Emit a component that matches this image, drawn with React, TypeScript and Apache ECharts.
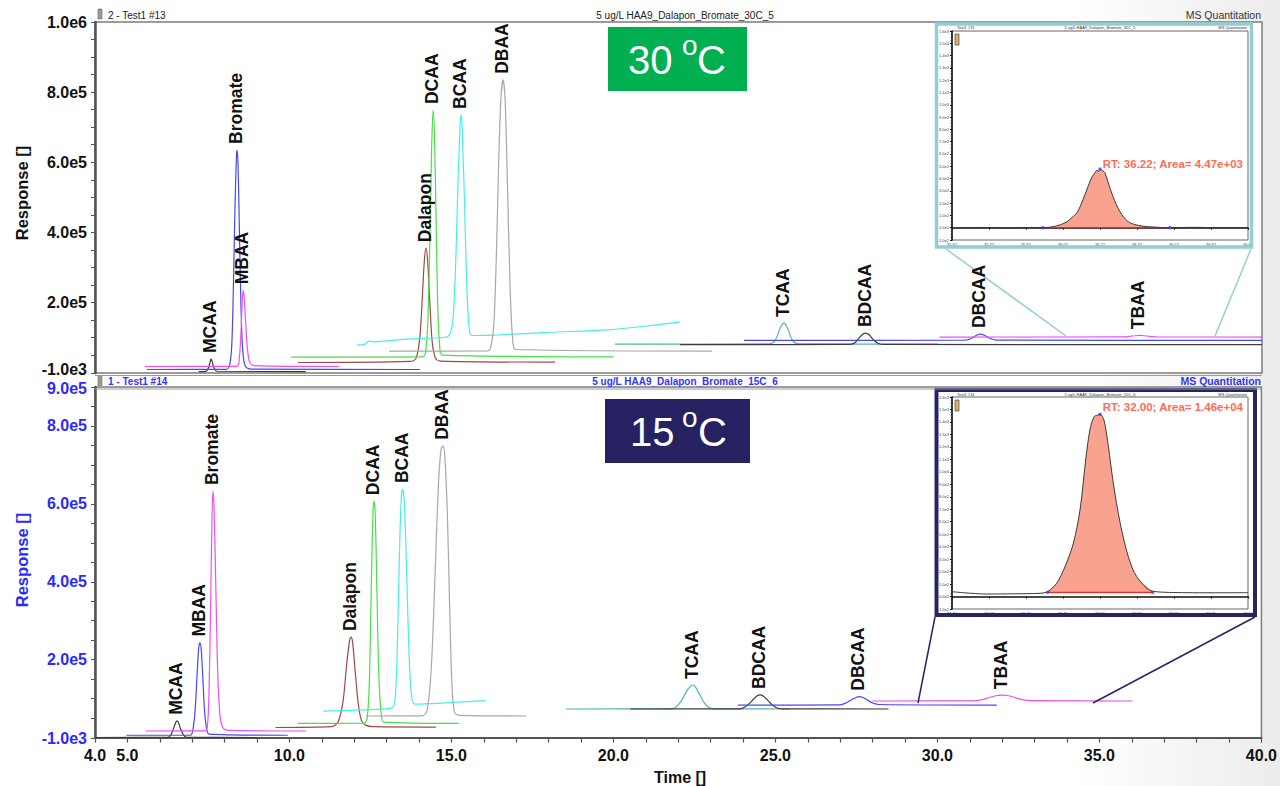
import { useEffect, useRef } from "react";
import * as echarts from "echarts";

type Pt = [number, number];

const FONT = "'Liberation Sans', Arial, Helvetica, sans-serif";

// ---- 30 °C run (upper panel): retention time (min), response ----
const mcaa30: Pt[] = [[7.2, 3000], [7.42, 3500], [7.5, 14000], [7.55, 30000], [7.58, 39000], [7.62, 30000], [7.67, 14000], [7.76, 4000], [10.5, 3000]];
const bromate30: Pt[] = [[5.6, 9000], [8.05, 9500], [8.15, 20000], [8.22, 80000], [8.27, 250000], [8.32, 480000], [8.36, 610000], [8.38, 635000], [8.41, 600000], [8.45, 430000], [8.5, 200000], [8.56, 60000], [8.64, 18000], [8.8, 10000], [14.03, 9000]];
const mbaa30: Pt[] = [[5.54, 17500], [8.38, 18000], [8.45, 40000], [8.5, 110000], [8.54, 200000], [8.57, 235000], [8.6, 215000], [8.65, 140000], [8.7, 70000], [8.77, 30000], [8.9, 20000], [11.53, 17500]];
const dalapon30: Pt[] = [[10.26, 29000], [13.7, 32000], [13.9, 40000], [14.02, 100000], [14.1, 220000], [14.16, 320000], [14.21, 355000], [14.26, 320000], [14.33, 200000], [14.4, 90000], [14.5, 42000], [14.65, 33000], [18.19, 30000]];
const dcaa30: Pt[] = [[10.05, 44000], [14.1, 45000], [14.2, 60000], [14.27, 150000], [14.33, 380000], [14.38, 620000], [14.43, 749000], [14.47, 680000], [14.52, 450000], [14.57, 200000], [14.63, 80000], [14.72, 50000], [19.98, 45000]];
const bcaa30: Pt[] = [[12.08, 79000], [12.3, 80000], [12.45, 90000], [12.6, 88000], [13.5, 95000], [14.8, 101000], [14.95, 110000], [15.05, 160000], [15.13, 320000], [15.2, 550000], [15.26, 700000], [15.29, 735000], [15.33, 690000], [15.4, 480000], [15.47, 250000], [15.54, 130000], [15.62, 106000], [16.5, 108000], [18.0, 115000], [19.8, 122000], [21.0, 133000], [22.05, 145000]];
const dbaa30: Pt[] = [[13.07, 61500], [16.1, 62000], [16.2, 70000], [16.3, 130000], [16.38, 330000], [16.45, 590000], [16.52, 780000], [16.59, 835000], [16.65, 780000], [16.72, 550000], [16.8, 260000], [16.88, 100000], [16.98, 66000], [23.03, 61500]];
const tcaa30: Pt[] = [[20.04, 81500], [24.8, 82000], [24.95, 88000], [25.05, 105000], [25.15, 130000], [25.25, 141500], [25.35, 130000], [25.45, 105000], [25.55, 88000], [25.7, 82000], [30.0, 81500]];
const bdcaa30: Pt[] = [[22.05, 80000], [27.3, 80500], [27.45, 86000], [27.6, 102000], [27.7, 111000], [27.78, 113000], [27.88, 108000], [28.0, 95000], [28.15, 84000], [28.35, 80500], [40, 80000]];
const dbcaa30: Pt[] = [[24.02, 92000], [30.8, 92500], [31.0, 96000], [31.15, 104000], [31.3, 110000], [31.45, 106000], [31.6, 98000], [31.8, 93000], [40, 92000]];
const tbaa30: Pt[] = [[30.05, 101500], [35.7, 102000], [36.0, 104500], [36.22, 106500], [36.45, 104500], [36.75, 102000], [40, 101500]];

// ---- 15 °C run (lower panel) ----
const mcaa15: Pt[] = [[4.03, 300], [6.25, 500], [6.35, 8000], [6.43, 25000], [6.5, 40000], [6.53, 43000], [6.57, 40000], [6.63, 25000], [6.72, 8000], [6.82, 1000], [9.03, 300]];
const mbaa15: Pt[] = [[4.97, 6000], [6.95, 6500], [7.02, 20000], [7.09, 70000], [7.15, 160000], [7.2, 230000], [7.24, 244000], [7.28, 225000], [7.33, 150000], [7.38, 70000], [7.44, 25000], [7.52, 9000], [9.95, 6000]];
const bromate15: Pt[] = [[5.56, 17000], [7.4, 17500], [7.47, 30000], [7.52, 120000], [7.57, 350000], [7.61, 560000], [7.64, 633000], [7.68, 580000], [7.73, 380000], [7.79, 160000], [7.86, 55000], [7.96, 24000], [8.2, 18500], [10.51, 17000]];
const dalapon15: Pt[] = [[9.57, 26000], [11.3, 28000], [11.5, 40000], [11.65, 90000], [11.77, 190000], [11.86, 250000], [11.9, 258000], [11.95, 245000], [12.03, 170000], [12.12, 90000], [12.22, 45000], [12.35, 32000], [12.6, 28000], [14.52, 27000]];
const dcaa15: Pt[] = [[10.26, 36500], [12.3, 37000], [12.4, 50000], [12.47, 150000], [12.53, 400000], [12.58, 580000], [12.61, 607000], [12.65, 570000], [12.7, 380000], [12.76, 160000], [12.83, 65000], [12.92, 40000], [15.23, 36500]];
const bcaa15: Pt[] = [[11.05, 68000], [12.5, 72000], [13.15, 75500], [13.25, 90000], [13.32, 200000], [13.39, 450000], [13.45, 610000], [13.5, 638000], [13.55, 600000], [13.62, 420000], [13.7, 200000], [13.78, 100000], [13.88, 86000], [14.8, 89000], [16.04, 95000]];
const dbaa15: Pt[] = [[12.36, 55500], [14.1, 56000], [14.25, 70000], [14.38, 180000], [14.5, 430000], [14.6, 650000], [14.68, 740000], [14.74, 749000], [14.8, 720000], [14.88, 560000], [14.95, 320000], [15.02, 130000], [15.1, 65000], [15.25, 57000], [17.31, 55500]];
const tcaa15: Pt[] = [[18.54, 73500], [21.8, 74000], [21.95, 80000], [22.1, 95000], [22.25, 118000], [22.38, 132000], [22.45, 135000], [22.53, 130000], [22.65, 112000], [22.8, 90000], [22.95, 77000], [23.1, 74000], [25.45, 73500]];
const bdcaa15: Pt[] = [[20.52, 73500], [23.9, 74000], [24.05, 78000], [24.2, 88000], [24.35, 101000], [24.45, 108000], [24.53, 109500], [24.62, 107000], [24.75, 97000], [24.9, 84000], [25.05, 76000], [25.2, 74000], [28.49, 73500]];
const dbcaa15: Pt[] = [[23.84, 83500], [26.95, 84000], [27.15, 88000], [27.35, 97000], [27.5, 103500], [27.59, 105000], [27.7, 103000], [27.85, 96000], [28.0, 89000], [28.2, 85000], [31.83, 83500]];
const tbaa15: Pt[] = [[27.99, 94000], [31.1, 94500], [31.35, 97000], [31.6, 103000], [31.8, 107500], [32.0, 109000], [32.2, 107500], [32.42, 102000], [32.65, 97000], [32.9, 95000], [36.02, 94000]];

// ---- TBAA peak close-ups (inset integrations) ----
const inset30: Pt[] = [[35.62, 0], [35.75, 2], [35.85, -1], [35.95, 1], [35.989, 0], [36.029, 8], [36.06, 25], [36.086, 48], [36.107, 85], [36.127, 122], [36.151, 228], [36.171, 333], [36.188, 414], [36.2, 447], [36.208, 468], [36.214, 456], [36.22, 477], [36.232, 462], [36.24, 447], [36.252, 374], [36.273, 252], [36.301, 130], [36.334, 49], [36.382, 16], [36.45, 4], [36.504, 0], [36.6, 3], [36.7, 0], [36.82, 2]];
const inset30Peak = { start: 35.989, apex: 36.22, end: 36.504, base: 0, area: "4.47e+03" };
const inset15: Pt[] = [[31.4, 39], [31.45, 30], [31.541, 20], [31.65, 22], [31.757, 26], [31.788, 39], [31.824, 106], [31.858, 239], [31.892, 427], [31.919, 694], [31.942, 1095], [31.959, 1336], [31.976, 1442], [31.99, 1455], [32.0, 1461], [32.016, 1416], [32.034, 1202], [32.054, 908], [32.082, 587], [32.115, 319], [32.149, 159], [32.214, 42], [32.351, 31], [32.45, 30], [32.6, 31]];
const inset15Peak = { start: 31.788, apex: 32.0, end: 32.214, base: 34, area: "1.46e+04" };

// ---- axis ticks ----
const xLabelValues = [4, 5, 10, 15, 20, 25, 30, 35, 40];
const xTickValues = Array.from({ length: 37 }, (_, i) => 4 + i);
const yLabels30 = [-1000, 200000, 400000, 600000, 800000, 1000000];
const yLabels15 = [-1000, 200000, 400000, 600000, 800000, 900000];
const yTicks30 = [-1000, ...Array.from({ length: 20 }, (_, i) => (i + 1) * 50000)];
const yTicks15 = [-1000, ...Array.from({ length: 18 }, (_, i) => (i + 1) * 50000)];
const insetX30 = [35.62, 35.77, 35.92, 36.07, 36.22, 36.37, 36.52, 36.67, 36.82];
const insetX15 = [31.4, 31.55, 31.7, 31.85, 32.0, 32.15, 32.3, 32.45, 32.6];

const COL = {
  blue: "#4747f2",
  magenta: "#f04ef0",
  black: "#3c3c3c",
  brown: "#a34646",
  green: "#47e047",
  cyan: "#42efef",
  grey: "#a8a8a8",
  teal: "#54b2b2",
};

const traces30 = [
  { name: "MCAA", data: mcaa30, color: COL.black },
  { name: "Bromate", data: bromate30, color: COL.blue },
  { name: "MBAA", data: mbaa30, color: COL.magenta },
  { name: "Dalapon", data: dalapon30, color: COL.brown },
  { name: "DCAA", data: dcaa30, color: COL.green },
  { name: "BCAA", data: bcaa30, color: COL.cyan },
  { name: "DBAA", data: dbaa30, color: COL.grey },
  { name: "TCAA", data: tcaa30, color: COL.teal },
  { name: "BDCAA", data: bdcaa30, color: COL.black },
  { name: "DBCAA", data: dbcaa30, color: COL.blue },
  { name: "TBAA", data: tbaa30, color: COL.magenta },
];

const traces15 = [
  { name: "MCAA", data: mcaa15, color: COL.black },
  { name: "MBAA", data: mbaa15, color: COL.blue },
  { name: "Bromate", data: bromate15, color: COL.magenta },
  { name: "Dalapon", data: dalapon15, color: COL.brown },
  { name: "DCAA", data: dcaa15, color: COL.green },
  { name: "BCAA", data: bcaa15, color: COL.cyan },
  { name: "DBAA", data: dbaa15, color: COL.grey },
  { name: "TCAA", data: tcaa15, color: COL.teal },
  { name: "BDCAA", data: bdcaa15, color: COL.black },
  { name: "DBCAA", data: dbcaa15, color: COL.blue },
  { name: "TBAA", data: tbaa15, color: COL.magenta },
];

function fmtExp(v: number): string {
  if (v === 0) return "0.0e0";
  const e = Math.floor(Math.log10(Math.abs(v)));
  const m = v / Math.pow(10, e);
  return `${m.toFixed(1)}e${e}`;
}

function apexOf(data: Pt[]): Pt {
  return data.reduce((a, b) => (b[1] > a[1] ? b : a));
}

const Y30_COLOR = "#111";
const Y15_COLOR = "#2a2aff";

export default function App() {
  const ref = useRef<HTMLDivElement>(null);

  useEffect(() => {
    const el = ref.current;
    if (!el) return;
    const chart = echarts.init(el, null, { renderer: "svg" });

    const yLabelStyle = (color: string) => ({
      color,
      fontFamily: FONT,
      fontWeight: "bold",
      fontSize: 16,
    });

    // The two labels where the panels meet (top panel's minimum, lower panel's
    // maximum) are placed separately so they can be nudged apart.
    const mainY = (grid: number, max: number, labels: number[], ticks: number[], color: string) => ({
      type: "value",
      gridIndex: grid,
      min: -1000,
      max,
      splitLine: { show: false },
      axisLine: { show: true, lineStyle: { color: "#555", width: 2.5 } },
      axisTick: { show: true, customValues: ticks, length: 4, lineStyle: { color: "#555", width: 1 } },
      axisLabel: {
        customValues: labels,
        formatter: (v: number) => fmtExp(v),
        margin: 8,
        ...yLabelStyle(color),
      },
    });

    const insetAxes = (grid: number, xmin: number, xmax: number, xvals: number[]) => ({
      x: {
        type: "value",
        gridIndex: grid,
        min: xmin,
        max: xmax,
        splitLine: { show: false },
        axisLine: { show: true, lineStyle: { color: "#111", width: 1.5 } },
        axisTick: { show: true, customValues: xvals, length: 2, lineStyle: { color: "#111" } },
        axisLabel: {
          customValues: xvals,
          formatter: (v: number) => v.toFixed(2),
          fontSize: 4,
          color: "#444",
          margin: 2,
          fontFamily: FONT,
        },
      },
      y: {
        type: "value",
        gridIndex: grid,
        min: -100,
        max: 1600,
        interval: 100,
        splitLine: { show: false },
        axisLine: { show: true, lineStyle: { color: "#111", width: 1.5 } },
        axisTick: { show: true, length: 2, lineStyle: { color: "#111" } },
        minorTick: { show: true, splitNumber: 4, length: 1.2, lineStyle: { color: "#333" } },
        axisLabel: { formatter: (v: number) => fmtExp(v), fontSize: 4, color: "#444", margin: 3, fontFamily: FONT },
      },
    });

    const in30 = insetAxes(2, insetX30[0], insetX30[insetX30.length - 1], insetX30);
    const in15 = insetAxes(3, insetX15[0], insetX15[insetX15.length - 1], insetX15);

    const traceSeries = (list: typeof traces30, axis: number) =>
      list.map((t) => ({
        type: "line",
        name: t.name,
        xAxisIndex: axis,
        yAxisIndex: axis,
        data: t.data,
        showSymbol: false,
        symbol: "none",
        smooth: 0.3,
        silent: true,
        lineStyle: { color: t.color, width: 1.2 },
        z: 3,
      }));

    const insetSeries = (axis: number, trace: Pt[], pk: typeof inset30Peak) => {
      const peakPart = trace.filter((p) => p[0] >= pk.start && p[0] <= pk.end);
      const apex = apexOf(trace);
      return [
        {
          type: "line",
          xAxisIndex: axis,
          yAxisIndex: axis,
          data: peakPart,
          showSymbol: false,
          symbol: "none",
          smooth: 0.3,
          silent: true,
          lineStyle: { width: 0, opacity: 0 },
          areaStyle: { color: "#f9a290", opacity: 1, origin: pk.base },
          z: 2,
        },
        {
          type: "line",
          xAxisIndex: axis,
          yAxisIndex: axis,
          data: [[pk.start, pk.base], [pk.end, pk.base]],
          showSymbol: false,
          symbol: "none",
          silent: true,
          lineStyle: { color: "#ff2020", width: 1.2 },
          z: 3,
        },
        {
          type: "line",
          xAxisIndex: axis,
          yAxisIndex: axis,
          data: trace,
          showSymbol: false,
          symbol: "none",
          smooth: 0.3,
          silent: true,
          lineStyle: { color: "#3a3a3a", width: 1 },
          z: 4,
        },
        {
          type: "scatter",
          xAxisIndex: axis,
          yAxisIndex: axis,
          data: [[pk.start, pk.base], apex, [pk.end, pk.base]],
          symbol: "rect",
          symbolSize: 3,
          silent: true,
          itemStyle: { color: "#3b3bff" },
          z: 5,
        },
      ];
    };

    const top30Min = yLabels30[0];
    const low15Max = yLabels15[yLabels15.length - 1];

    chart.setOption({
      animation: false,
      textStyle: { fontFamily: FONT },
      grid: [
        { left: 95, top: 22, width: 1167, height: 351, show: true, backgroundColor: "#fff", borderColor: "#7c7c7c", borderWidth: 1.5 },
        { left: 95, top: 387, width: 1167, height: 351, show: true, backgroundColor: "#fff", borderColor: "#7c7c7c", borderWidth: 1.5 },
        { left: 952, top: 31, width: 296, height: 209, show: true, backgroundColor: "#fff", borderColor: "#666", borderWidth: 1 },
        { left: 952, top: 397, width: 296, height: 212, show: true, backgroundColor: "#fff", borderColor: "#666", borderWidth: 1 },
      ],
      xAxis: [
        {
          type: "value",
          gridIndex: 0,
          min: 4,
          max: 40,
          splitLine: { show: false },
          axisLine: { show: false },
          axisTick: { show: false },
          axisLabel: { show: false },
        },
        {
          type: "value",
          gridIndex: 1,
          min: 4,
          max: 40,
          splitLine: { show: false },
          axisLine: { show: true, lineStyle: { color: "#555", width: 2 } },
          axisTick: { show: true, customValues: xTickValues, length: 5, lineStyle: { color: "#555", width: 1.2 } },
          axisLabel: {
            customValues: xLabelValues,
            formatter: (v: number) => v.toFixed(1),
            color: "#111",
            fontFamily: FONT,
            fontWeight: "bold",
            fontSize: 16,
            margin: 9,
          },
        },
        in30.x,
        in15.x,
      ],
      yAxis: [
        mainY(0, 1000000, yLabels30.filter((v) => v !== top30Min), yTicks30, Y30_COLOR),
        mainY(1, 900000, yLabels15.filter((v) => v !== low15Max), yTicks15, Y15_COLOR),
        in30.y,
        in15.y,
      ],
      series: [
        ...traceSeries(traces30, 0),
        ...traceSeries(traces15, 1),
        ...insetSeries(2, inset30, inset30Peak),
        ...insetSeries(3, inset15, inset15Peak),
      ],
    });

    // ---- overlay texts and decorations ----
    const g: any[] = [];
    const txt = (x: number, y: number, text: string, opts: any = {}, extra: any = {}) => ({
      type: "text",
      x,
      y,
      z: 50,
      ...extra,
      style: {
        text,
        fontFamily: FONT,
        fontSize: 10,
        fill: "#222",
        textAlign: "left",
        textVerticalAlign: "middle",
        ...opts,
      },
    });

    // boundary tick labels of the two panels
    const pMin = chart.convertToPixel({ yAxisIndex: 0 } as any, top30Min) as unknown as number;
    const pMax = chart.convertToPixel({ yAxisIndex: 1 } as any, low15Max) as unknown as number;
    g.push(txt(87, pMin - 3.5, fmtExp(top30Min), { textAlign: "right", fontSize: 16, fontWeight: "bold", fill: Y30_COLOR }));
    g.push(txt(87, pMax + 1.5, fmtExp(low15Max), { textAlign: "right", fontSize: 16, fontWeight: "bold", fill: Y15_COLOR }));

    // compound names above each peak apex
    const addPeakLabels = (list: typeof traces30, gridIndex: number) => {
      list.forEach((t) => {
        const a = apexOf(t.data);
        const p = chart.convertToPixel({ gridIndex } as any, a) as number[];
        g.push(txt(p[0] - 1, p[1] - 6, t.name, { fontSize: 17.5, fontWeight: "bold", fill: "#111" }, { rotation: Math.PI / 2 }));
      });
    };
    addPeakLabels(traces30, 0);
    addPeakLabels(traces15, 1);

    // panel headers
    g.push({ type: "rect", z: 50, shape: { x: 98, y: 9, width: 4, height: 10 }, style: { fill: "#9c9c9c", stroke: "#6a6a6a", lineWidth: 0.6 } });
    g.push(txt(108, 15, "2 - Test1 #13", { fill: "#222" }));
    g.push(txt(685, 15, "5 ug/L HAA9_Dalapon_Bromate_30C_5", { textAlign: "center", fill: "#222" }));
    g.push(txt(1261, 15, "MS Quantitation", { textAlign: "right", fill: "#333", fontSize: 10.5 }));
    g.push({ type: "line", z: 50, shape: { x1: 95, y1: 375.5, x2: 1262, y2: 375.5 }, style: { stroke: "#9a9a9a", lineWidth: 1 } });
    g.push({ type: "line", z: 50, shape: { x1: 95, y1: 389, x2: 1262, y2: 389 }, style: { stroke: "#9a9a9a", lineWidth: 1 } });
    g.push({ type: "rect", z: 50, shape: { x: 98, y: 376.5, width: 4, height: 9 }, style: { fill: "#9c9c9c", stroke: "#6a6a6a", lineWidth: 0.6 } });
    g.push(txt(108, 381, "1 - Test1 #14", { fill: "#3333ff", fontWeight: "bold" }));
    g.push(txt(685, 381, "5 ug/L HAA9_Dalapon_Bromate_15C_6", { textAlign: "center", fill: "#3333ff", fontWeight: "bold" }));
    g.push(txt(1261, 381, "MS Quantitation", { textAlign: "right", fill: "#3333ff", fontWeight: "bold", fontSize: 10.5 }));

    // axis titles
    g.push(txt(22, 193, "Response []", { textAlign: "center", fontSize: 16.5, fontWeight: "bold", fill: "#111" }, { rotation: Math.PI / 2 }));
    g.push(txt(22, 560, "Response []", { textAlign: "center", fontSize: 16.5, fontWeight: "bold", fill: Y15_COLOR }, { rotation: Math.PI / 2 }));
    g.push(txt(654, 777, "Time []", { fontSize: 16, fontWeight: "bold", fill: "#111" }));

    // temperature tags
    g.push({ type: "rect", z: 40, shape: { x: 608, y: 27, width: 139, height: 64 }, style: { fill: "#00b050" } });
    g.push(txt(628, 60, "30", { fontSize: 40, fill: "#fff" }));
    g.push(txt(682, 45, "o", { fontSize: 28, fill: "#fff" }));
    g.push(txt(697, 60, "C", { fontSize: 40, fill: "#fff" }));
    g.push({ type: "rect", z: 40, shape: { x: 605, y: 399, width: 145, height: 64 }, style: { fill: "#262262" } });
    g.push(txt(630, 432, "15", { fontSize: 40, fill: "#fff" }));
    g.push(txt(682, 417, "o", { fontSize: 28, fill: "#fff" }));
    g.push(txt(698, 432, "C", { fontSize: 40, fill: "#fff" }));

    // inset frames, connectors and captions
    const lightBlue = "#93ced6";
    const navy = "#272462";
    g.push({ type: "rect", z: 45, shape: { x: 936.5, y: 24, width: 315, height: 223 }, style: { fill: "none", stroke: lightBlue, lineWidth: 3.5 } });
    g.push({ type: "line", z: 45, shape: { x1: 946, y1: 249, x2: 1066, y2: 336 }, style: { stroke: lightBlue, lineWidth: 1.5 } });
    g.push({ type: "line", z: 45, shape: { x1: 1251, y1: 249, x2: 1215, y2: 336 }, style: { stroke: lightBlue, lineWidth: 1.5 } });
    g.push({ type: "rect", z: 45, shape: { x: 936.5, y: 390, width: 318.5, height: 225 }, style: { fill: "none", stroke: navy, lineWidth: 4 } });
    g.push({ type: "line", z: 45, shape: { x1: 935, y1: 617, x2: 918, y2: 703 }, style: { stroke: navy, lineWidth: 1.5 } });
    g.push({ type: "line", z: 45, shape: { x1: 1255, y1: 617, x2: 1093, y2: 703 }, style: { stroke: navy, lineWidth: 1.5 } });

    // tiny inset headers
    g.push(txt(957, 27.5, "Test1 #13", { fontSize: 4, fill: "#333" }));
    g.push(txt(1100, 27.5, "5 ug/L HAA9_Dalapon_Bromate_30C_5", { fontSize: 4, fill: "#333", textAlign: "center" }));
    g.push(txt(1247, 27.5, "MS Quantitation", { fontSize: 4, fill: "#333", textAlign: "right" }));
    g.push(txt(957, 394, "Test1 #14", { fontSize: 4, fill: "#333" }));
    g.push(txt(1100, 394, "5 ug/L HAA9_Dalapon_Bromate_15C_6", { fontSize: 4, fill: "#333", textAlign: "center" }));
    g.push(txt(1247, 394, "MS Quantitation", { fontSize: 4, fill: "#333", textAlign: "right" }));
    g.push({ type: "rect", z: 50, shape: { x: 955, y: 34, width: 4, height: 11 }, style: { fill: "#d8b070", stroke: "#333", lineWidth: 0.6 } });
    g.push({ type: "rect", z: 50, shape: { x: 955, y: 400, width: 4, height: 11 }, style: { fill: "#d8b070", stroke: "#333", lineWidth: 0.6 } });

    g.push(txt(1243, 164, `RT: ${inset30Peak.apex.toFixed(2)}; Area= ${inset30Peak.area}`, { fontSize: 11.5, fontWeight: "bold", fill: "#ff6b57", textAlign: "right" }));
    g.push(txt(1243, 407, `RT: ${inset15Peak.apex.toFixed(2)}; Area= ${inset15Peak.area}`, { fontSize: 11.5, fontWeight: "bold", fill: "#ff6b57", textAlign: "right" }));

    chart.setOption({ graphic: { elements: g } });

    return () => chart.dispose();
  }, []);

  return (
    <div
      ref={ref}
      style={{
        position: "absolute",
        left: 0,
        top: 0,
        width: 1280,
        height: 786,
        background: "linear-gradient(90deg, #ffffff 0%, #ffffff 84%, #ececec 100%)",
      }}
    />
  );
}
